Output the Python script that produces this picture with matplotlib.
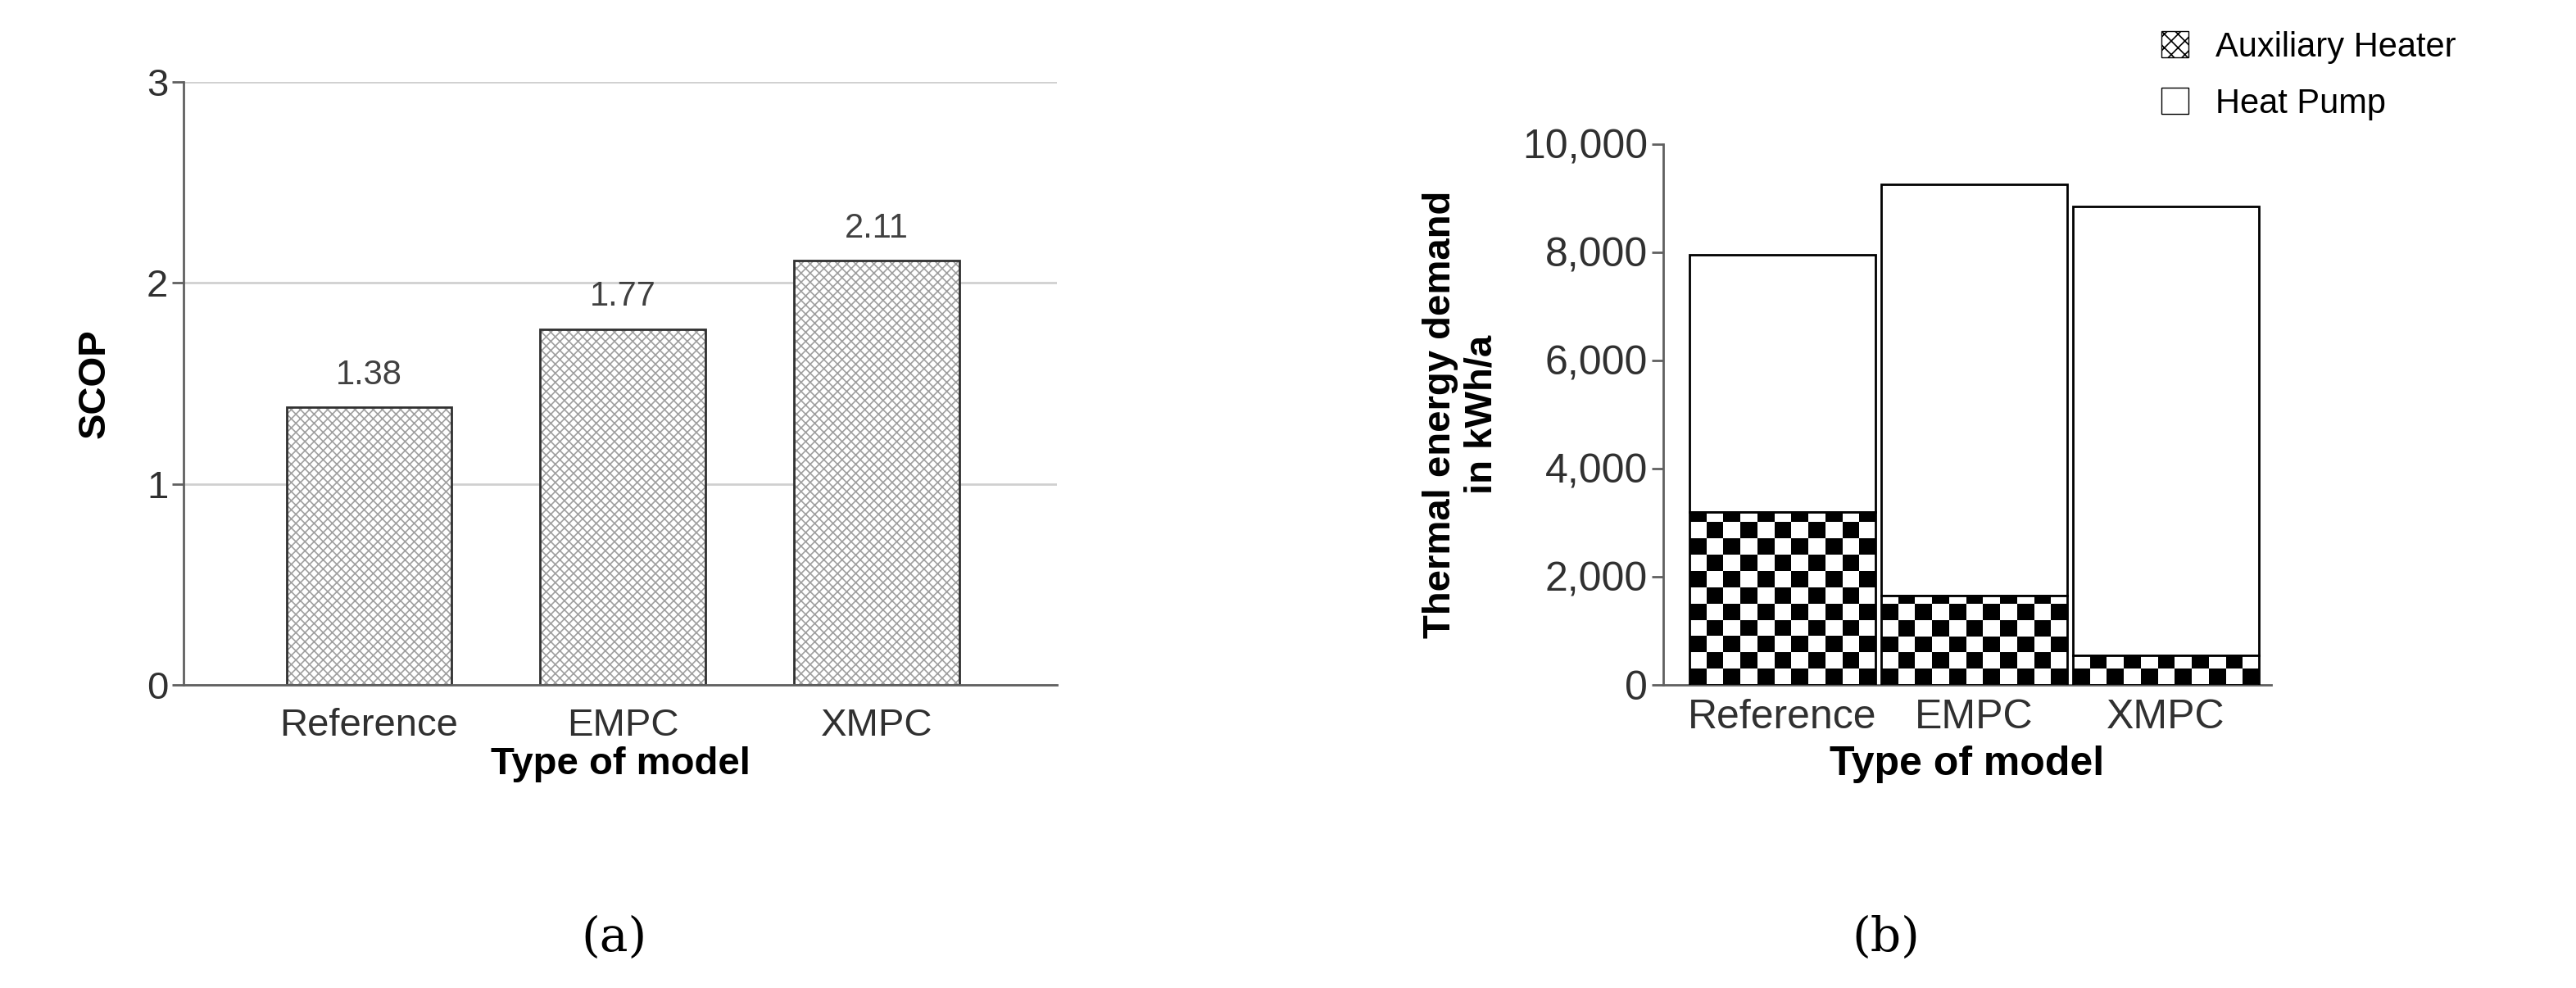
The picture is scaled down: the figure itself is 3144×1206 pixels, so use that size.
import numpy as np
import matplotlib
matplotlib.use('Agg')
from matplotlib import pyplot as plt
from matplotlib.patches import Patch

plt.rcParams['font.family'] = ['Liberation Sans', 'DejaVu Sans']
plt.rcParams['hatch.linewidth'] = 1.2

models = ['Reference', 'EMPC', 'XMPC']
scop = [1.38, 1.77, 2.11]
aux_heater = [3200, 1650, 550]
heat_pump = [4750, 7600, 8300]

fig = plt.figure(figsize=(31.44, 12.06), dpi=100)
ax1 = fig.add_axes([224/3144, 1-836/1206, 1066/3144, 736/1206])
ax2 = fig.add_axes([2030/3144, 1-836/1206, 742/3144, 660/1206])

# (a) SCOP
x = np.arange(len(models))
ax1.yaxis.grid(True, color='#d0d0d0', lw=2)
ax1.set_axisbelow(True)
bars = ax1.bar(x, scop, width=0.65, color='white', edgecolor='#303030', lw=2,
               hatch='xxx')
for b in bars:
    b._hatch_color = matplotlib.colors.to_rgba('#a0a0a0')
for xi, v in zip(x, scop):
    ax1.text(xi, v + 0.08, f'{v:.2f}', ha='center', va='bottom', fontsize=30, color='#404040')
ax1.set_ylim(0, 3)
ax1.set_xlim(-0.73, 2.71)
ax1.set_yticks([0, 1, 2, 3])
ax1.set_xticks(x, models)
ax1.spines[['top', 'right']].set_visible(False)
ax1.spines[['left', 'bottom']].set_color('#606060')
ax1.spines[['left', 'bottom']].set_linewidth(2)
ax1.tick_params(axis='y', labelsize=34, length=10, width=2, color='#606060', colors='#303030')
ax1.tick_params(axis='x', labelsize=34, length=0, pad=20, colors='#303030')
ax1.set_ylabel('SCOP', fontsize=34, fontweight='bold', labelpad=30)
ax1.set_xlabel('Type of model', fontsize=34, fontweight='bold', labelpad=2)

# (b) thermal energy demand
w = 0.97
cell_h = 300
ncols = 11
ax2.bar(x, heat_pump, bottom=aux_heater, width=w, color='white', edgecolor='black', lw=2)
aux_bars = ax2.bar(x, aux_heater, width=w, facecolor='none', edgecolor='black', lw=2, zorder=3)
for xi, b, v in zip(x, aux_bars, aux_heater):
    nrows = int(np.ceil(v / cell_h))
    checker = np.indices((nrows, ncols)).sum(axis=0) % 2
    im = ax2.imshow(checker, cmap='gray', extent=(xi - w/2, xi + w/2, 0, nrows * cell_h),
                    aspect='auto', interpolation='nearest', zorder=2, origin='lower')
    im.set_clip_path(b)
ax2.set_ylim(0, 10000)
ax2.set_xlim(-0.62, 2.55)
ax2.set_yticks(range(0, 10001, 2000), [f'{v:,}' for v in range(0, 10001, 2000)])
ax2.set_xticks(x, models)
ax2.spines[['top', 'right']].set_visible(False)
ax2.spines[['left', 'bottom']].set_color('#606060')
ax2.spines[['left', 'bottom']].set_linewidth(2)
ax2.tick_params(axis='y', labelsize=36, length=10, width=2, color='#606060', colors='#303030')
ax2.tick_params(axis='x', labelsize=36, length=0, pad=12, colors='#303030')
ax2.set_ylabel('Thermal energy demand\nin kWh/a', fontsize=34, fontweight='bold', labelpad=20)
ax2.set_xlabel('Type of model', fontsize=36, fontweight='bold', labelpad=8)

handles = [Patch(facecolor='white', edgecolor='black', hatch='xx', label='Auxiliary Heater'),
           Patch(facecolor='white', edgecolor='black', label='Heat Pump')]
fig.legend(handles=handles, loc='upper left', bbox_to_anchor=(2600/3144, 1.0), frameon=False,
           fontsize=30, handlelength=0.8, handleheight=0.8, labelspacing=0.7)

fig.text(750/3144, 1-1145/1206, '(a)', ha='center', va='center', fontsize=42, family='DejaVu Serif')
fig.text(2302/3144, 1-1145/1206, '(b)', ha='center', va='center', fontsize=42, family='DejaVu Serif')

fig.savefig('out.png', dpi=100)
